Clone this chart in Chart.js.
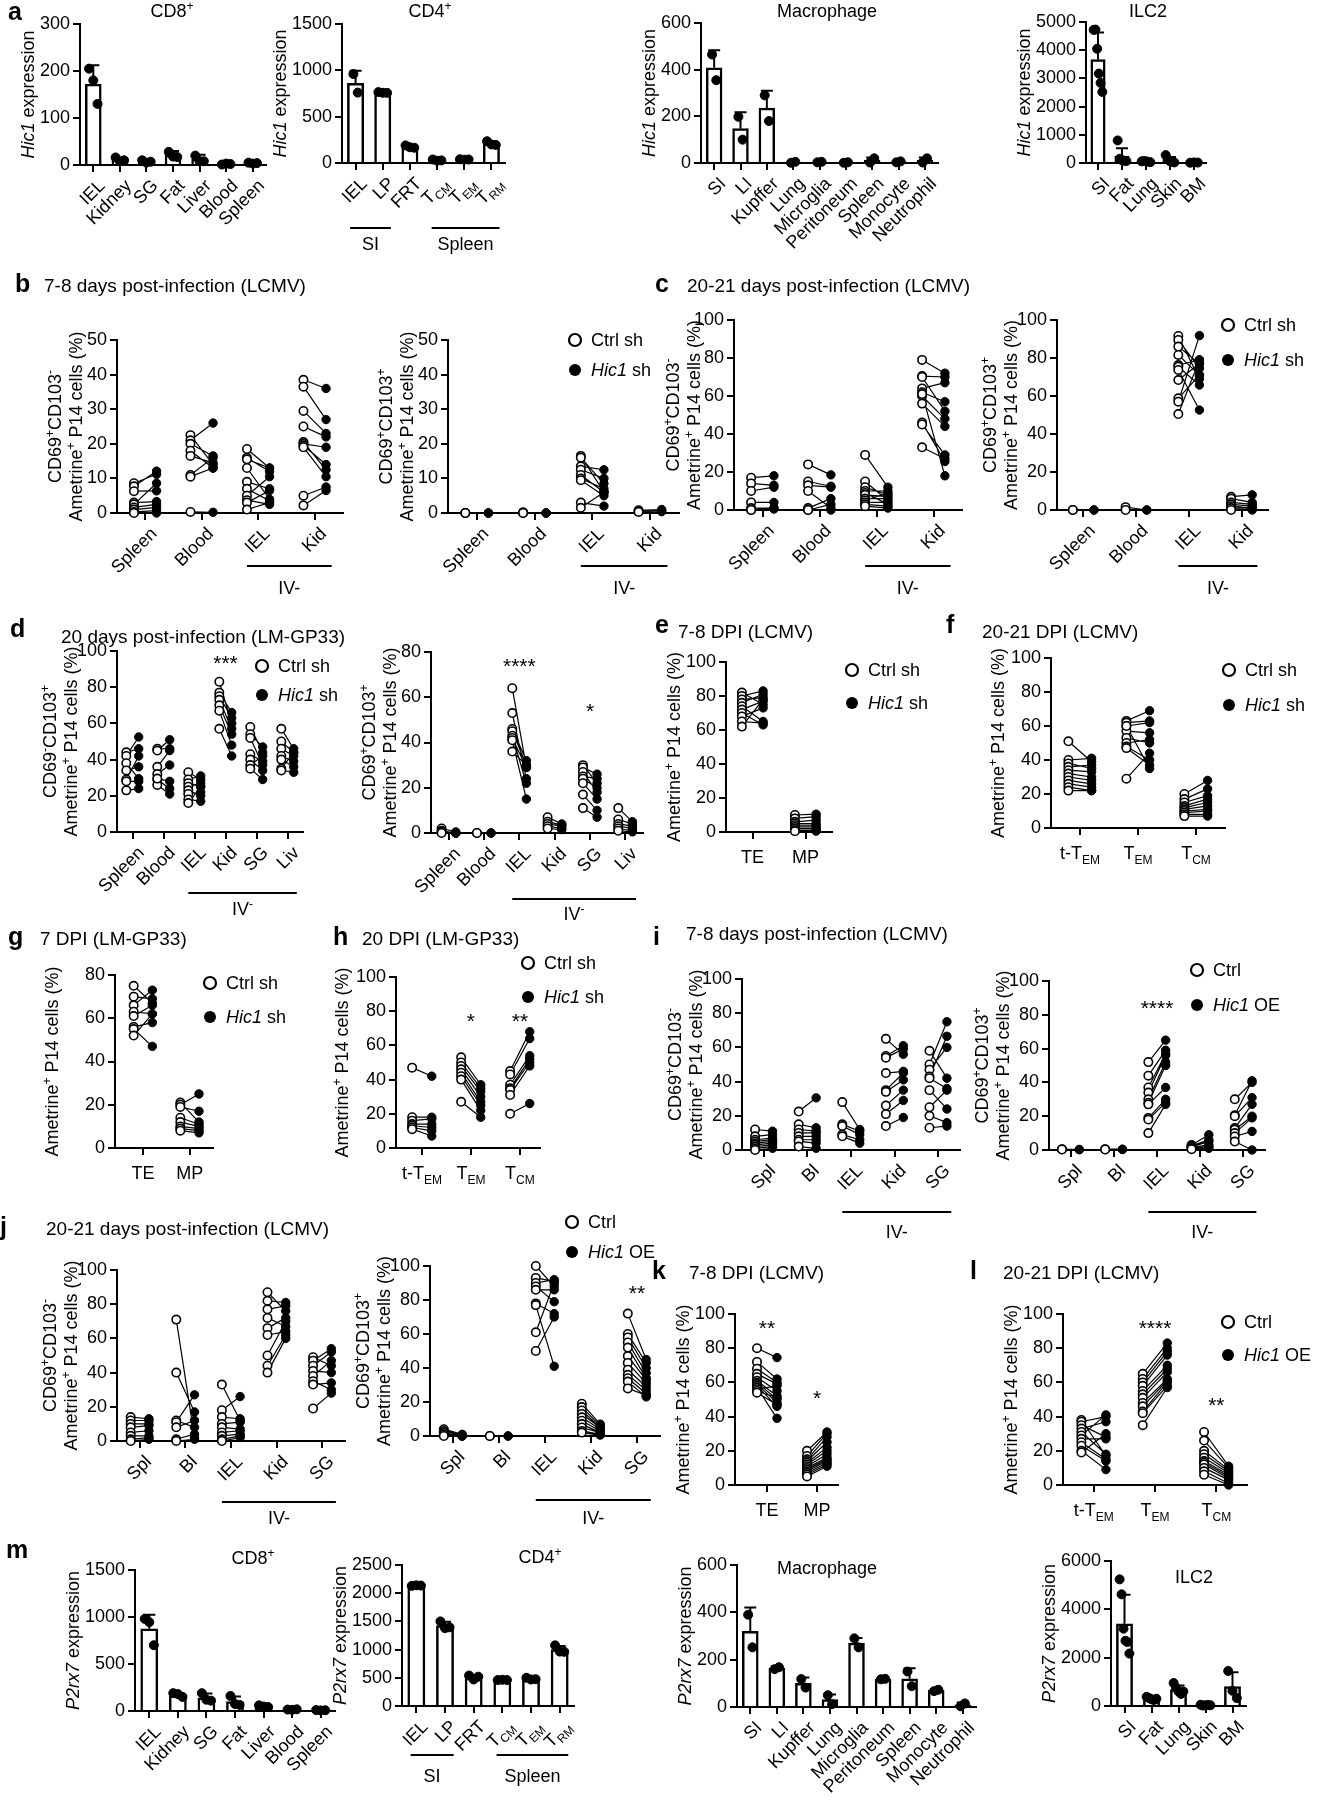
<!DOCTYPE html>
<html>
<head>
<meta charset="utf-8">
<script src="https://cdn.jsdelivr.net/npm/chart.js@4.4.1/dist/chart.umd.min.js"></script>
<style>
html, body { margin: 0; padding: 0; background: #fff; }
body { position: relative; width: 1319px; height: 1800px; overflow: hidden; font-family: "Liberation Sans", Arial, Helvetica, sans-serif; color: #000; }
canvas { position: absolute; }
.t { position: absolute; white-space: nowrap; font-size: 19px; line-height: 1; }
.L { position: absolute; white-space: nowrap; font-size: 25px; font-weight: bold; line-height: 1; }
</style>
</head>
<body>
<script>
// ---- categories ----
const catsOrgan = ["IEL", "Kidney", "SG", "Fat", "Liver", "Blood", "Spleen"]
const catsCD4 = ["IEL", "LP", "FRT", "T_{CM}", "T_{EM}", "T_{RM}"]
const catsMac = ["SI", "LI", "Kupffer", "Lung", "Microglia", "Peritoneum", "Spleen", "Monocyte", "Neutrophil"]
const catsILC = ["SI", "Fat", "Lung", "Skin", "BM"]
const catsTis4 = ["Spleen", "Blood", "IEL", "Kid"]
const catsTis6 = ["Spleen", "Blood", "IEL", "Kid", "SG", "Liv"]
const catsTis5 = ["Spl", "Bl", "IEL", "Kid", "SG"]
const catsTeMp = ["TE", "MP"]
const catsMem = ["t-T_{EM}", "T_{EM}", "T_{CM}"]

// ---- a: Hic1 expression ----
const a1Mean = [172, 11, 7, 21, 12, 2, 4]
const a1Sd = [40, 4, 3, 9, 10, 1, 2]
const a1Pts = [[205, 180, 130], [16, 8, 10], [10, 5, 7], [28, 18, 17], [20, 8, 8], [1, 3, 2], [5, 3, 4]]
const a2Mean = [860, 760, 175, 30, 38, 210]
const a2Sd = [135, 8, 15, 8, 4, 25]
const a2Pts = [[960, 760], [765, 758, 757], [190, 170, 165], [38, 25, 28], [40, 36, 38], [235, 200, 195]]
const a3Mean = [408, 148, 235, 3, 4, 2, 11, 5, 11]
const a3Sd = [75, 70, 75, 2, 2, 1, 13, 3, 13]
const a3Pts = [[465, 355], [198, 100], [290, 180], [1, 5], [3, 5], [1, 3], [2, 20], [3, 7], [2, 20]]
const a4Mean = [3670, 240, 55, 110, 15]
const a4Sd = [960, 280, 30, 100, 10]
const a4Pts = [[4720, 4730, 4050, 3170, 2840, 2520], [800, 150, 100, 80, 70], [60, 70, 50, 30], [280, 130, 60, 40, 20], [10, 20, 15]]

// ---- m: P2rx7 expression ----
const m1Mean = [875, 172, 140, 100, 50, 15, 8]
const m1Sd = [150, 20, 45, 55, 10, 3, 2]
const m1Pts = [[980, 945, 700], [190, 180, 150], [190, 120, 110], [160, 75, 65], [60, 48, 42], [15, 12, 18], [10, 6, 8]]
const m2Mean = [2135, 1425, 510, 462, 482, 1000]
const m2Sd = [10, 70, 40, 5, 15, 65]
const m2Pts = [[2130, 2140, 2135], [1500, 1380, 1395], [540, 470, 520], [460, 465, 461], [500, 470, 476], [1075, 965, 960]]
const m3Mean = [320, 164, 100, 31, 270, 118, 119, 70, 9]
const m3Sd = [100, 8, 25, 22, 22, 2, 45, 4, 10]
const m3Pts = [[390, 252], [160, 168], [118, 82], [50, 12], [290, 252], [117, 119], [150, 88], [67, 73], [3, 15]]
const m4Mean = [3400, 310, 680, 35, 800]
const m4Sd = [1200, 60, 170, 15, 600]
const m4Pts = [[5240, 4620, 3200, 2700, 2650, 2170], [380, 330, 280, 250, 300], [950, 750, 600, 500, 600], [50, 20, 30, 40, 30], [1450, 630, 330]]

// ---- paired values (ctrl -> treated), one inner list per category ----
const b1Ctrl = [[8.6, 7.7, 6.3, 3.0, 2.5, 1.6, 1.0, 0.3, 0], [22.5, 21, 20, 18, 16.5, 11, 10.5, 0.3], [18.5, 16, 15.5, 13, 9, 7, 5, 3.7, 3, 1], [38.5, 36.5, 29.5, 25, 20.5, 20, 19.5, 19, 5, 2.2]]
const b1Trt = [[11.2, 12.1, 6.4, 3.3, 8.6, 2.5, 1.6, 0.7, 0], [14, 26, 16.5, 13, 14.5, 16, 13, 0.2], [13, 12, 13, 4, 7, 3.5, 10.5, 2.5, 6.5, 3], [36, 27, 23, 22, 12.5, 19, 14, 10.5, 7.5, 6.5]]
const b2Ctrl = [[0, 0, 0], [0.2, 0, 0], [16.5, 16, 13.5, 12.5, 11, 10, 9.5, 3, 1.5], [0.8, 0.5, 0.3]]
const b2Trt = [[0, 0, 0], [0, 0, 0], [6, 8.5, 12.5, 10, 6, 7, 5, 2, 6], [1.0, 0.6, 0.4]]
const c1Ctrl = [[17, 14, 10, 4, 1, 0, 0], [24, 15, 13, 10, 1, 0, 0], [29, 15, 12, 10, 9, 8, 6, 5, 4, 3, 2], [79, 70.5, 70, 64, 62, 60, 56, 46, 45, 33, 61]]
const c1Trt = [[18, 13, 12, 4, 1, 0.5, 1], [18.5, 12.5, 12, 1, 6, 3, 0], [12, 5, 8, 10, 3, 7, 6, 9, 4, 2, 1], [72, 70, 52, 67, 57, 48, 44, 25.5, 29, 27, 18]]
const c2Ctrl = [[0, 0], [1.5, 0], [91.6, 89.5, 86, 81.6, 76.3, 75.4, 73.7, 68.4, 58.8, 57, 50.5], [7, 6, 4, 3, 2, 1, 0]]
const c2Trt = [[0, 0], [0, 0], [69, 74.6, 77, 71, 79, 65.8, 52.6, 77, 71, 91.8, 79], [8, 4, 3, 2, 1, 1, 0]]
const d1Ctrl = [[44, 42, 38, 34, 29, 28, 23], [46, 45, 36, 32, 29, 26, 29.5], [33, 29, 27, 25, 23, 21, 18, 16], [83, 77, 75, 73, 70, 67, 57], [58, 54, 52, 43, 40, 37, 35], [57, 50, 46, 42, 40, 35, 34]]
const d1Trt = [[46, 52.5, 29.5, 36, 42, 28, 24], [46, 51, 45, 37, 24, 21, 28], [29, 31, 25, 27, 20, 22, 17, 25], [60, 66, 63, 57, 54, 48, 42], [44, 47, 37, 39, 34, 42, 29], [46, 44, 42, 39, 36, 44, 33]]
const d2Ctrl = [[2, 1, 0.5, 0], [0, 0], [64, 53, 46, 45, 43, 42, 41, 36], [7, 5, 4, 3, 2], [30, 29, 27, 25, 24, 22, 17, 11], [11, 6, 4, 3, 2, 1]]
const d2Trt = [[0.5, 0, 0, 0], [0, 0], [29, 24, 32, 30, 22, 29, 15, 30], [4, 3.5, 3, 2, 1.5], [22, 26, 18, 24, 20, 15, 10, 7], [5, 4, 3, 2, 1, 0.5]]
const eCtrl = [[82, 80, 78, 76, 74, 72, 70, 68, 65, 62], [10, 8, 6, 5, 4, 3, 2, 1, 0.5]]
const eTrt = [[75, 83, 79, 81, 65, 77, 63, 73, 64, 78], [10.5, 9, 7, 5, 4, 3, 2, 1, 0.5]]
const fCtrl = [[51, 40, 38, 36, 34, 32, 30, 28, 26, 24, 22], [63, 62, 60, 57, 53, 50, 48, 47, 29, 60], [20, 17, 15, 13, 12, 11, 10, 9, 8, 7]]
const fTrt = [[39, 41, 35, 37, 33, 30, 28, 26, 24, 22, 22], [69, 63, 62, 56, 50, 52, 40, 37, 44, 35], [28, 23, 19, 17, 15, 13, 11, 10, 8, 7]]
const gCtrl = [[75, 70, 66, 63, 61, 56, 55, 52], [21, 20, 19, 14, 12, 10, 9, 8]]
const gTrt = [[67, 69, 73, 62, 66, 58, 47, 62], [12, 25, 17, 11, 10, 9, 8, 7]]
const hCtrl = [[47, 18, 16, 14, 13, 12, 11], [53, 50, 48, 46, 44, 42, 40, 27], [45, 43, 37, 35, 34, 31, 20]]
const hTrt = [[42, 18, 17, 14, 12, 10, 7], [37, 35, 33, 30, 27, 25, 22, 18], [68, 64, 54, 52, 50, 48, 26]]
const i1Ctrl = [[12, 8, 6, 5, 4, 3, 2, 1, 0], [22.5, 15, 12, 10, 8, 6, 5, 2], [28, 15, 14, 9, 8], [65, 55, 54, 45, 35, 34, 26, 21, 14], [58, 50, 47, 43, 42, 35, 25, 20, 13]]
const i1Trt = [[11, 9, 7, 6, 5, 4, 3, 2, 1], [30.5, 13, 11, 10, 8, 6, 4, 1], [12, 11, 9, 6, 4], [56, 61, 59, 46, 45, 41, 35, 29, 19], [42, 75, 60, 66.5, 36, 24, 35, 16, 14]]
const i2Ctrl = [[0.5, 0.3], [0.5, 0.3], [52, 44, 37, 34, 30, 28, 27, 19, 18, 10], [3, 2.5, 2, 1.5, 1, 0.5], [30, 20.5, 20, 13, 12, 10, 8, 5]]
const i2Trt = [[0.3, 0.2], [0.5, 0.3], [65, 59, 57, 56, 52, 50, 37, 30, 28, 27], [9, 6, 5, 3, 2, 1], [40, 41, 31, 27, 20, 19, 11, 0]]
const j1Ctrl = [[14, 12, 10, 8, 5, 3, 1, 0], [71, 40, 12, 11, 8, 1, 0], [33, 18, 14, 10, 8, 5, 3, 1, 0], [87, 82, 77, 72, 66, 62, 50, 44, 40], [49, 47, 44, 41, 38, 35, 33, 19]]
const j1Trt = [[13, 12, 10, 9, 6, 3, 2, 1], [2, 17, 8, 27, 12, 4, 1], [12, 26, 13, 11, 7, 6, 4, 3, 2], [76, 81, 79, 67, 72, 64, 70, 62, 60], [44, 54, 52, 40, 47, 30, 34, 28]]
const j2Ctrl = [[4, 3, 2, 1, 0], [0, 0], [100, 93, 90, 88, 86, 78, 77, 61, 50], [19, 17, 15, 13, 11, 9, 7, 5, 3, 2], [72, 60, 58, 55, 52, 47, 43, 39, 36, 34, 32, 28]]
const j2Trt = [[1, 0.5, 0, 0, 0], [0, 0], [88, 91, 92, 79, 86, 72, 41, 90, 70], [7, 6, 5, 5, 4, 3, 2, 2, 1, 0.5], [45, 43, 40, 37, 34, 33, 31, 29, 27, 25, 23, 24]]
const kCtrl = [[80, 72, 68, 65, 63, 61, 60, 59, 58, 57, 56, 55, 54], [20, 17, 15, 14, 13, 12, 11, 10, 9, 8, 7, 6, 5]]
const kTrt = [[74.5, 62, 60, 59, 55, 52, 50, 48, 46, 39, 58, 51, 47], [31, 30, 28, 25, 22, 20, 18, 16, 15, 14, 13, 12, 11]]
const lCtrl = [[38, 37, 35, 33, 31, 29, 27, 25, 23, 20, 19], [65, 62, 60, 58, 55, 53, 51, 48, 46, 43, 42, 35], [31, 26, 20, 18, 16, 14, 13, 12, 10, 8, 6]]
const lTrt = [[17, 40, 28, 37, 18, 41, 27, 15, 14, 9, 30], [83, 80, 78, 76, 70, 68, 66, 62, 61, 60, 58, 57], [11, 10, 9, 8, 7, 6, 5, 4, 3, 1, 0]]

// ---- layout ----
const FONT = '"Liberation Sans", Arial, Helvetica, sans-serif'
const FS = 18
const PADL = 110, PADR = 110, PADT = 60, PADB = 115
const DX = 0.2
const hicT = "~Hic1~ expression", p2T = "~P2rx7~ expression", ametT = "Ametrine^{+} P14 cells (%)"
const lgSh = { a: "Ctrl sh", b: "~Hic1~ sh" }, lgOe = { a: "Ctrl", b: "~Hic1~ OE" }

const panels = [
  { kind: "bar", L: 80, R: 266, T: 24, B: 165, ymax: 300, ystep: 100, cats: catsOrgan, mean: a1Mean, sd: a1Sd, pts: a1Pts, rot: true, yt: [[28, hicT]], title: [172, 11, "CD8^{+}"] },
  { kind: "bar", L: 342, R: 505, T: 24, B: 163, ymax: 1500, ystep: 500, cats: catsCD4, mean: a2Mean, sd: a2Sd, pts: a2Pts, rot: true, yt: [[280, hicT]], title: [430, 11, "CD4^{+}"], br: [[0, 1, "SI"], [3, 5, "Spleen"]], brY: 228, brTY: 244 },
  { kind: "bar", L: 701, R: 938, T: 23, B: 163, ymax: 600, ystep: 200, cats: catsMac, mean: a3Mean, sd: a3Sd, pts: a3Pts, rot: true, yt: [[649, hicT]], title: [827, 11, "Macrophage"] },
  { kind: "bar", L: 1086, R: 1206, T: 22, B: 163, ymax: 5000, ystep: 1000, cats: catsILC, mean: a4Mean, sd: a4Sd, pts: a4Pts, rot: true, yt: [[1024, hicT]], title: [1148, 11, "ILC2"] },

  { kind: "pair", L: 117, R: 343, T: 340, B: 513, ymax: 50, ystep: 10, cats: catsTis4, ctrl: b1Ctrl, trt: b1Trt, rot: true, yt: [[55, "CD69^{+}CD103^{-}"], [76, ametT]], br: [[2, 3, "IV-"]], brY: 566, brTY: 588 },
  { kind: "pair", L: 448, R: 679, T: 340, B: 513, ymax: 50, ystep: 10, cats: catsTis4, ctrl: b2Ctrl, trt: b2Trt, rot: true, yt: [[386, "CD69^{+}CD103^{+}"], [407, ametT]], br: [[2, 3, "IV-"]], brY: 566, brTY: 588, lg: { x: 575, y1: 340, y2: 370, ...lgSh } },
  { kind: "pair", L: 734, R: 962, T: 320, B: 510, ymax: 100, ystep: 20, cats: catsTis4, ctrl: c1Ctrl, trt: c1Trt, rot: true, yt: [[673, "CD69^{+}CD103^{-}"], [694, ametT]], br: [[2, 3, "IV-"]], brY: 566, brTY: 588 },
  { kind: "pair", L: 1057, R: 1268, T: 320, B: 510, ymax: 100, ystep: 20, cats: catsTis4, ctrl: c2Ctrl, trt: c2Trt, rot: true, yt: [[990, "CD69^{+}CD103^{+}"], [1011, ametT]], br: [[2, 3, "IV-"]], brY: 566, brTY: 588, lg: { x: 1228, y1: 325, y2: 360, ...lgSh } },

  { kind: "pair", L: 117, R: 303, T: 651, B: 832, ymax: 100, ystep: 20, cats: catsTis6, ctrl: d1Ctrl, trt: d1Trt, rot: true, yt: [[50, "CD69^{-}CD103^{+}"], [71, ametT]], br: [[2, 5, "IV^{-}"]], brY: 893, brTY: 909, lg: { x: 262, y1: 666, y2: 695, ...lgSh }, st: [[3, 96, "***"]] },
  { kind: "pair", L: 431, R: 643, T: 652, B: 833, ymax: 80, ystep: 20, cats: catsTis6, ctrl: d2Ctrl, trt: d2Trt, rot: true, yt: [[369, "CD69^{+}CD103^{+}"], [390, ametT]], br: [[2, 5, "IV^{-}"]], brY: 899, brTY: 914, st: [[2, 76, "****"], [4, 56, "*"]] },
  { kind: "pair", L: 726, R: 832, T: 662, B: 832, ymax: 100, ystep: 20, cats: catsTeMp, ctrl: eCtrl, trt: eTrt, yt: [[674, ametT]], lg: { x: 852, y1: 670, y2: 703, ...lgSh } },
  { kind: "pair", L: 1051, R: 1225, T: 658, B: 828, ymax: 100, ystep: 20, cats: catsMem, ctrl: fCtrl, trt: fTrt, yt: [[998, ametT]], lg: { x: 1229, y1: 670, y2: 705, ...lgSh } },

  { kind: "pair", L: 115, R: 213, T: 975, B: 1148, ymax: 80, ystep: 20, xmin: -0.6, xmax: 1.5, cats: catsTeMp, ctrl: gCtrl, trt: gTrt, yt: [[52, ametT]], lg: { x: 210, y1: 983, y2: 1017, ...lgSh } },
  { kind: "pair", L: 396, R: 540, T: 977, B: 1148, ymax: 100, ystep: 20, xmin: -0.53, xmax: 2.41, cats: catsMem, ctrl: hCtrl, trt: hTrt, yt: [[342, ametT]], lg: { x: 528, y1: 963, y2: 997, ...lgSh }, st: [[1, 77, "*"], [2, 77, "**"]] },
  { kind: "pair", L: 742, R: 960, T: 979, B: 1150, ymax: 100, ystep: 20, cats: catsTis5, ctrl: i1Ctrl, trt: i1Trt, rot: true, yt: [[675, "CD69^{+}CD103^{-}"], [696, ametT]], br: [[2, 4, "IV-"]], brY: 1212, brTY: 1232 },
  { kind: "pair", L: 1049, R: 1265, T: 981, B: 1150, ymax: 100, ystep: 20, cats: catsTis5, ctrl: i2Ctrl, trt: i2Trt, rot: true, yt: [[982, "CD69^{+}CD103^{+}"], [1003, ametT]], br: [[2, 4, "IV-"]], brY: 1212, brTY: 1232, lg: { x: 1197, y1: 970, y2: 1005, ...lgOe }, st: [[2, 87, "****"]] },

  { kind: "pair", L: 117, R: 345, T: 1270, B: 1441, ymax: 100, ystep: 20, cats: catsTis5, ctrl: j1Ctrl, trt: j1Trt, rot: true, yt: [[50, "CD69^{+}CD103^{-}"], [71, ametT]], br: [[2, 4, "IV-"]], brY: 1502, brTY: 1518 },
  { kind: "pair", L: 430, R: 660, T: 1266, B: 1436, ymax: 100, ystep: 20, cats: catsTis5, ctrl: j2Ctrl, trt: j2Trt, rot: true, yt: [[363, "CD69^{+}CD103^{+}"], [384, ametT]], br: [[2, 4, "IV-"]], brY: 1500, brTY: 1518, lg: { x: 572, y1: 1222, y2: 1252, ...lgOe }, st: [[4, 87, "**"]] },
  { kind: "pair", L: 735, R: 838, T: 1314, B: 1485, ymax: 100, ystep: 20, xmin: -0.64, xmax: 1.42, cats: catsTeMp, ctrl: kCtrl, trt: kTrt, yt: [[683, ametT]], st: [[0, 95, "**"], [1, 54, "*"]] },
  { kind: "pair", L: 1063, R: 1247, T: 1314, B: 1485, ymax: 100, ystep: 20, cats: catsMem, ctrl: lCtrl, trt: lTrt, yt: [[1011, ametT]], lg: { x: 1228, y1: 1322, y2: 1355, ...lgOe }, st: [[1, 95, "****"], [2, 50, "**"]] },

  { kind: "bar", L: 135, R: 335, T: 1570, B: 1711, ymax: 1500, ystep: 500, cats: catsOrgan, mean: m1Mean, sd: m1Sd, pts: m1Pts, rot: true, yt: [[73, p2T]], title: [253, 1558, "CD8^{+}"] },
  { kind: "bar", L: 402, R: 574, T: 1565, B: 1706, ymax: 2500, ystep: 500, cats: catsCD4, mean: m2Mean, sd: m2Sd, pts: m2Pts, rot: true, yt: [[340, p2T]], title: [540, 1557, "CD4^{+}"], br: [[0, 1, "SI"], [3, 5, "Spleen"]], brY: 1755, brTY: 1776 },
  { kind: "bar", L: 737, R: 976, T: 1565, B: 1707, ymax: 600, ystep: 200, cats: catsMac, mean: m3Mean, sd: m3Sd, pts: m3Pts, rot: true, yt: [[685, p2T]], title: [827, 1568, "Macrophage"] },
  { kind: "bar", L: 1111, R: 1246, T: 1561, B: 1706, ymax: 6000, ystep: 2000, cats: catsILC, mean: m4Mean, sd: m4Sd, pts: m4Pts, rot: true, yt: [[1049, p2T]], title: [1194, 1577, "ILC2"] }
]

const letters = [["a", 8, 20], ["b", 15, 292], ["c", 655, 292], ["d", 10, 637], ["e", 655, 633], ["f", 946, 633], ["g", 8, 945], ["h", 333, 945], ["i", 653, 945], ["j", 0, 1235], ["k", 652, 1279], ["l", 970, 1279], ["m", 6, 1558]]
const rowTitles = [
  ["7-8 days post-infection (LCMV)", 44, 292], ["20-21 days post-infection (LCMV)", 687, 292],
  ["20 days post-infection (LM-GP33)", 61, 643], ["7-8 DPI (LCMV)", 678, 638], ["20-21 DPI (LCMV)", 982, 638],
  ["7 DPI (LM-GP33)", 40, 945], ["20 DPI (LM-GP33)", 362, 945], ["7-8 days post-infection (LCMV)", 686, 940],
  ["20-21 days post-infection (LCMV)", 46, 1235], ["7-8 DPI (LCMV)", 689, 1279], ["20-21 DPI (LCMV)", 1003, 1279]
]

// ---- rich text: ~ toggles italic, ^{..} superscript, _{..} subscript ----
function parseRich(s) {
  const runs = []
  let it = false, buf = "", i = 0
  const push = (t, m) => { if (t) runs.push({ t, it, m }) }
  while (i < s.length) {
    const c = s[i]
    if (c === "~") { push(buf, 0); buf = ""; it = !it; i++ }
    else if ((c === "^" || c === "_") && s[i + 1] === "{") {
      push(buf, 0); buf = ""
      const j = s.indexOf("}", i)
      push(s.slice(i + 2, j), c === "^" ? 1 : -1)
      i = j + 1
    } else { buf += c; i++ }
  }
  push(buf, 0)
  return runs
}
const runFont = (r, size) => (r.it ? "italic " : "") + (r.m ? Math.round(size * 0.65) : size) + "px " + FONT

function drawRich(ctx, s, x, y, size, align) {
  const runs = parseRich(s)
  let w = 0
  runs.forEach(r => { ctx.font = runFont(r, size); r.w = ctx.measureText(r.t).width; w += r.w })
  let cx = align === "center" ? x - w / 2 : align === "right" ? x - w : x
  const base = y + size * 0.36
  ctx.textAlign = "left"
  ctx.textBaseline = "alphabetic"
  runs.forEach(r => {
    ctx.font = runFont(r, size)
    ctx.fillText(r.t, cx, base + (r.m === 1 ? -size * 0.42 : r.m === -1 ? size * 0.24 : 0))
    cx += r.w
  })
}

function extras(p) {
  const ox = p.L - PADL, oy = p.T - PADT
  return {
    id: "extras",
    afterDatasetDraw(chart, args) {
      if (p.kind !== "bar" || args.index !== 0) return
      const ctx = chart.ctx, sx = chart.scales.x, y = chart.scales.y
      ctx.save()
      ctx.strokeStyle = "#000"
      ctx.lineWidth = 2
      p.mean.forEach((m, i) => {
        const px = sx.getPixelForValue(i), y1 = y.getPixelForValue(m), y2 = y.getPixelForValue(m + p.sd[i])
        ctx.beginPath()
        ctx.moveTo(px, y1); ctx.lineTo(px, y2)
        ctx.moveTo(px - 6, y2); ctx.lineTo(px + 6, y2)
        ctx.stroke()
      })
      ctx.restore()
    },
    afterDraw(chart) {
      const ctx = chart.ctx, sx = chart.scales.x, y = chart.scales.y
      ctx.save()
      ctx.fillStyle = "#000"
      ctx.strokeStyle = "#000"
      // category labels
      p.cats.forEach((c, i) => {
        const px = sx.getPixelForValue(i)
        if (p.rot) {
          ctx.save()
          ctx.translate(px + 8, y.bottom + 17)
          ctx.rotate(-Math.PI / 4)
          drawRich(ctx, c, 0, 0, FS, "right")
          ctx.restore()
        } else drawRich(ctx, c, px, y.bottom + 25, FS, "center")
      })
      // y titles
      const midY = (y.top + y.bottom) / 2
      p.yt.forEach(([x, t]) => {
        ctx.save()
        ctx.translate(x - ox, midY)
        ctx.rotate(-Math.PI / 2)
        drawRich(ctx, t, 0, 0, FS, "center")
        ctx.restore()
      })
      if (p.title) drawRich(ctx, p.title[2], p.title[0] - ox, p.title[1] - oy, FS, "center")
      // group brackets
      if (p.br) {
        const w = sx.getPixelForValue(1) - sx.getPixelForValue(0)
        p.br.forEach(([a, b, t]) => {
          const x1 = sx.getPixelForValue(a) - 0.2 * w, x2 = sx.getPixelForValue(b) + 0.3 * w
          ctx.lineWidth = 2
          ctx.beginPath()
          ctx.moveTo(x1, p.brY - oy); ctx.lineTo(x2, p.brY - oy)
          ctx.stroke()
          drawRich(ctx, t, (x1 + x2) / 2, p.brTY - oy, FS, "center")
        })
      }
      // significance stars
      if (p.st) p.st.forEach(([i, v, t]) => {
        ctx.font = "21px " + FONT
        ctx.textAlign = "center"
        ctx.textBaseline = "alphabetic"
        ctx.fillText(t, sx.getPixelForValue(i), y.getPixelForValue(v) + 12)
      })
      // legend
      if (p.lg) {
        [[p.lg.y1, p.lg.a, false], [p.lg.y2, p.lg.b, true]].forEach(([ly, t, filled]) => {
          ctx.beginPath()
          ctx.arc(p.lg.x - ox, ly - oy, 6, 0, Math.PI * 2)
          if (filled) ctx.fill()
          else { ctx.lineWidth = 2.2; ctx.stroke() }
          drawRich(ctx, t, p.lg.x - ox + 16, ly - oy, FS, "left")
        })
      }
      ctx.restore()
    }
  }
}

function makeChart(p) {
  const cv = document.createElement("canvas")
  const w = p.R - p.L + PADL + PADR, h = p.B - p.T + PADT + PADB
  cv.width = w; cv.height = h
  cv.style.left = (p.L - PADL) + "px"
  cv.style.top = (p.T - PADT) + "px"
  cv.style.width = w + "px"
  cv.style.height = h + "px"
  document.body.appendChild(cv)
  const n = p.cats.length

  const axisGrid = { drawOnChartArea: false, drawTicks: true, tickLength: 7, color: "#000", lineWidth: 2, offset: false }
  const axisBorder = { display: true, color: "#000", width: 2 }
  const xScale = {
    type: "linear", offset: false,
    min: p.xmin ?? -0.5, max: p.xmax ?? n - 0.5,
    afterBuildTicks: s => { s.ticks = p.cats.map((c, i) => ({ value: i })) },
    ticks: { callback: () => "" }, grid: axisGrid, border: axisBorder,
    afterFit: s => { s.height = PADB }
  }
  const yScale = {
    type: "linear", min: 0, max: p.ymax,
    ticks: { stepSize: p.ystep, autoSkip: false, color: "#000", font: { family: FONT, size: FS }, padding: 3, callback: v => String(v) },
    grid: axisGrid, border: axisBorder,
    afterFit: s => { s.width = PADL }
  }
  const options = {
    responsive: false, animation: false, devicePixelRatio: 1, events: [],
    layout: { padding: { top: PADT, right: PADR, left: 0, bottom: 0 } },
    plugins: { legend: { display: false }, tooltip: { enabled: false } },
    scales: { x: xScale, y: yScale }
  }

  let datasets
  if (p.kind === "bar") {
    const pts = []
    p.pts.forEach((vals, i) => {
      const k = vals.length, sp = k > 1 ? Math.min(0.16, 0.36 / (k - 1)) : 0
      vals.forEach((v, j) => pts.push({ x: i + (j - (k - 1) / 2) * sp, y: v }))
    })
    datasets = [
      { type: "bar", data: p.mean.map((m, i) => ({ x: i, y: m })), backgroundColor: "#fff", borderColor: "#000", borderWidth: 2.5, barThickness: 0.6 * (p.R - p.L) / n, order: 2 },
      { type: "scatter", data: pts, pointRadius: 4.5, pointBackgroundColor: "#000", pointBorderColor: "#000", order: 1, clip: false }
    ]
  } else {
    const lines = [], ctrl = [], trt = []
    p.ctrl.forEach((vals, i) => vals.forEach((v, k) => {
      const t = p.trt[i][k]
      ctrl.push({ x: i - DX, y: v })
      trt.push({ x: i + DX, y: t })
      lines.push({ x: i - DX, y: v }, { x: i + DX, y: t }, { x: i, y: null })
    }))
    datasets = [
      { type: "scatter", data: lines, showLine: true, spanGaps: false, borderColor: "#000", borderWidth: 1.2, pointRadius: 0, order: 3, clip: false },
      { type: "scatter", data: ctrl, pointRadius: 4.2, pointBackgroundColor: "#fff", pointBorderColor: "#000", pointBorderWidth: 1.6, order: 2, clip: false },
      { type: "scatter", data: trt, pointRadius: 4.2, pointBackgroundColor: "#000", pointBorderColor: "#000", order: 1, clip: false }
    ]
  }
  new Chart(cv, { type: p.kind === "bar" ? "bar" : "scatter", data: { datasets }, options, plugins: [extras(p)] })
}

panels.forEach(makeChart)

letters.forEach(([t, x, b]) => {
  const d = document.createElement("div")
  d.className = "L"
  d.textContent = t
  d.style.left = x + "px"
  d.style.top = (b - 21) + "px"
  document.body.appendChild(d)
})
rowTitles.forEach(([t, x, b]) => {
  const d = document.createElement("div")
  d.className = "t"
  d.textContent = t
  d.style.left = x + "px"
  d.style.top = (b - 16) + "px"
  document.body.appendChild(d)
})
</script>
</body>
</html>
